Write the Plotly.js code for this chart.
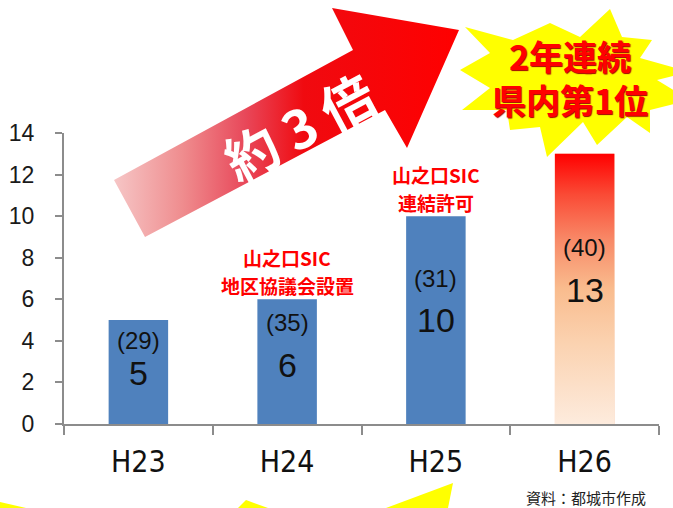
<!DOCTYPE html>
<html>
<head>
<meta charset="utf-8">
<script src="https://cdn.plot.ly/plotly-3.0.1.min.js"></script>
<style>html,body{margin:0;padding:0;background:#fff;}#chart{width:673px;height:508px;}</style>
</head>
<body>
<div id="chart"></div>
<script>
// ---- data ----
const categories = ['H23', 'H24', 'H25', 'H26'];
const values = [5, 6, 10, 13];
const counts = [29, 35, 31, 40];
const yTickVals = [0, 2, 4, 6, 8, 10, 12, 14];
const noteCategories = ['H24', 'H25'];
const noteLine1 = ['山之口SIC', '山之口SIC'];
const noteLine2 = ['地区協議会設置', '連結許可'];
const starText = '2年連続<br>県内第1位';
const arrowText = '約 3 倍';
const sourceText = '資料：都城市作成';

// ---- layout constants (page pixels) ----
const W = 673, H = 508;
const barBlue = '#4f81bd';
const highlightCat = 'H26';
const barWidth = 0.4;
const countLabelY = [4.04, 4.86, 7.0, 8.5];
const valueLabelY = [2.45, 2.84, 5.0, 6.44];

const hi = categories.indexOf(highlightCat);

const barTrace = {
  type: 'bar', x: categories, y: values,
  marker: {color: categories.map((c, i) => i === hi ? '#f8b890' : barBlue), line: {width: 0}},
  hoverinfo: 'skip', showlegend: false
};
const gradTrace = {
  type: 'scatter', mode: 'lines', xaxis: 'x2', yaxis: 'y',
  x: [hi - barWidth / 2, hi + barWidth / 2, hi + barWidth / 2, hi - barWidth / 2, hi - barWidth / 2],
  y: [0, 0, values[hi], values[hi], 0],
  fill: 'toself', line: {width: 0, color: 'rgba(0,0,0,0)'},
  fillgradient: {type: 'vertical', colorscale: [
    [0, '#fdebdd'], [0.3, '#fbd2b0'], [0.5, '#f9bc8e'], [0.68, '#f88a68'], [0.85, '#fa4a35'], [1, '#ff0000']
  ]},
  hoverinfo: 'skip', showlegend: false
};

const arrowPts = [[114,180],[353,50],[332,8],[459,30],[407,148],[385,110],[145,237],[114,180]];
const arrowTrace = {
  type: 'scatter', mode: 'lines', xaxis: 'x3', yaxis: 'y3',
  x: arrowPts.map(p => p[0]), y: arrowPts.map(p => p[1]),
  fill: 'toself', line: {width: 0, color: 'rgba(0,0,0,0)'},
  fillgradient: {type: 'horizontal', start: 114, stop: 459, colorscale: [
    [0, '#f6c6c6'], [0.2, '#ef8c8e'], [0.38, '#e8485a'], [0.55, '#f00a10'], [1, '#ff0000']
  ]},
  hoverinfo: 'skip', showlegend: false
};
const starPts = [[610,9],[622,37],[652,40],[640,58],[690,72],[657,80],[690,100],[650,110],[650,133],[627,117],
  [597,145],[583,122],[547,157],[540,127],[510,130],[507,110],[462,110],[490,88],[460,70],[490,53],
  [465,27],[513,40],[550,23],[580,37],[610,9]];
const starTrace = {
  type: 'scatter', mode: 'lines', xaxis: 'x3', yaxis: 'y3',
  x: starPts.map(p => p[0]), y: starPts.map(p => p[1]),
  fill: 'toself', fillcolor: '#ffff00', line: {width: 0, color: 'rgba(0,0,0,0)'},
  hoverinfo: 'skip', showlegend: false
};
const slivers = [
  [[0,502],[26,508],[0,508],[0,502]],
  [[238,508],[246,500],[268,508],[238,508]],
  [[386,508],[453,483],[448,508],[386,508]]
];
const sliverTraces = slivers.map(s => ({
  type: 'scatter', mode: 'lines', xaxis: 'x3', yaxis: 'y3',
  x: s.map(p => p[0]), y: s.map(p => p[1]),
  fill: 'toself', fillcolor: '#ffff00', line: {width: 0, color: 'rgba(0,0,0,0)'},
  hoverinfo: 'skip', showlegend: false
}));

const annotations = [];
categories.forEach((c, i) => {
  annotations.push({xref: 'x', yref: 'y', x: c, y: countLabelY[i], text: '(' + counts[i] + ')',
    showarrow: false, yanchor: 'middle', font: {family: 'Liberation Sans, Arial, sans-serif', size: 24, color: '#111'}});
  annotations.push({xref: 'x', yref: 'y', x: c, y: valueLabelY[i], text: String(values[i]),
    showarrow: false, yanchor: 'middle', font: {family: 'Liberation Sans, Arial, sans-serif', size: 34, color: '#111'}});
});
const noteFont = {family: 'Noto Sans CJK JP, sans-serif', size: 19, color: '#ff0000', weight: 700};
noteCategories.forEach((c, k) => {
  const v = values[categories.indexOf(c)];
  annotations.push({xref: 'x', yref: 'y', x: c, y: v, text: noteLine2[k], showarrow: false,
    yanchor: 'middle', yshift: 14, borderpad: 0, font: noteFont});
  annotations.push({xref: 'x', yref: 'y', x: c, y: v, text: noteLine1[k], showarrow: false,
    yanchor: 'middle', yshift: 42, borderpad: 0, font: noteFont});
});
annotations.push({xref: 'x3', yref: 'y3', x: 570, y: 77, text: starText, showarrow: false,
  xanchor: 'center', yanchor: 'middle',
  font: {family: 'Noto Sans CJK JP, sans-serif', size: 34, color: '#ff0000', weight: 700, shadow: '1px 1px 1px #a00000'}});
annotations.push({xref: 'x3', yref: 'y3', x: 298, y: 126, text: arrowText, showarrow: false,
  textangle: -28, xanchor: 'center', yanchor: 'middle',
  font: {family: 'Noto Sans CJK JP, sans-serif', size: 53, color: '#ffffff', weight: 700}});
annotations.push({xref: 'x3', yref: 'y3', x: 648, y: 497, text: sourceText, showarrow: false,
  xanchor: 'right', yanchor: 'middle',
  font: {family: 'Noto Sans CJK JP, sans-serif', size: 15, color: '#222'}});

const axisGray = '#8c8c8c';
const layout = {
  width: W, height: H,
  margin: {l: 0, r: 0, t: 0, b: 0, pad: 0},
  paper_bgcolor: '#ffffff', plot_bgcolor: 'rgba(0,0,0,0)',
  showlegend: false, bargap: 1 - barWidth,
  xaxis: {
    type: 'category', domain: [64 / W, 659 / W], range: [-0.5, 3.5],
    showline: true, linecolor: axisGray, linewidth: 2, showgrid: false, zeroline: false,
    ticks: 'outside', tickson: 'boundaries', ticklen: 9, tickwidth: 2, tickcolor: axisGray,
    tickfont: {family: 'Liberation Sans Narrow, DejaVu Sans Condensed, Arial Narrow, sans-serif', size: 30, color: '#111'},
    ticklabelstandoff: 10, fixedrange: true, anchor: 'y'
  },
  xaxis2: {overlaying: 'x', range: [-0.5, 3.5], visible: false, fixedrange: true},
  yaxis: {
    domain: [(H - 424) / H, (H - 133) / H], range: [0, 14], tickvals: yTickVals,
    showline: true, linecolor: axisGray, linewidth: 2, showgrid: false, zeroline: false,
    ticks: 'outside', ticklen: 7, tickwidth: 2, tickcolor: axisGray,
    tickfont: {family: 'Liberation Sans, Arial, sans-serif', size: 23, color: '#1a1a1a'},
    ticklabelstandoff: 16, fixedrange: true, anchor: 'x'
  },
  xaxis3: {domain: [0, 1], range: [0, W], visible: false, fixedrange: true, anchor: 'y3'},
  yaxis3: {domain: [0, 1], range: [H, 0], visible: false, fixedrange: true, anchor: 'x3'},
  annotations: annotations
};

Plotly.newPlot('chart', [barTrace, gradTrace, arrowTrace, starTrace, ...sliverTraces], layout,
  {staticPlot: true, displayModeBar: false});
</script>
</body>
</html>
